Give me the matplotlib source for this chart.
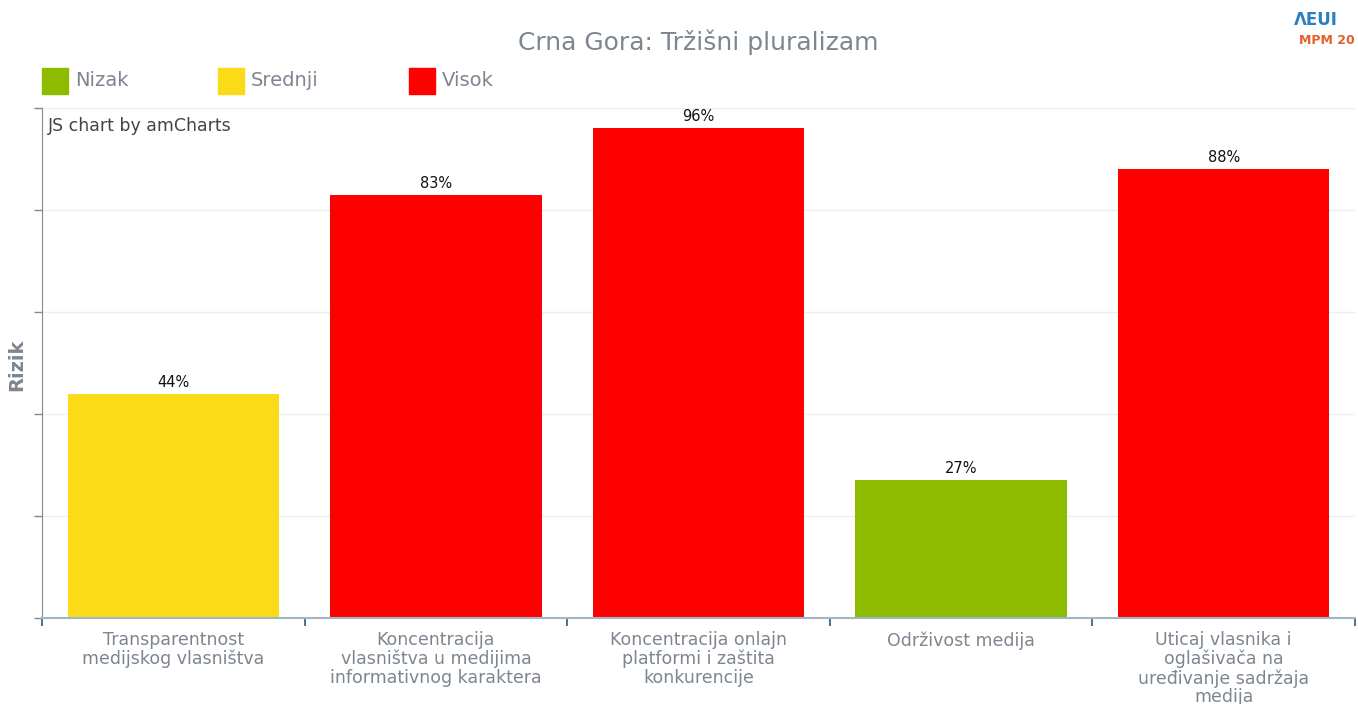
import matplotlib.pyplot as plt
from matplotlib.patches import Rectangle
import numpy as np

plt.rcParams['font.family'] = ['DejaVu Sans']

categories = ['Transparentnost\nmedijskog vlasništva',
              'Koncentracija\nvlasništva u medijima\ninformativnog karaktera',
              'Koncentracija onlajn\nplatformi i zaštita\nkonkurencije',
              'Održivost medija',
              'Uticaj vlasnika i\noglašivača na\nuređivanje sadržaja\nmedija']
values = [44, 83, 96, 27, 88]
levels = ['Srednji', 'Visok', 'Visok', 'Nizak', 'Visok']

level_names = ['Nizak', 'Srednji', 'Visok']
level_colors = {'Nizak': '#8cbb00', 'Srednji': '#fbdb18', 'Visok': '#ff0000'}

W, H = 1358, 704
fig = plt.figure(figsize=(W / 100, H / 100), dpi=100)
ax = fig.add_axes([42 / W, 1 - 618 / H, (1355 - 42) / W, (618 - 108) / H])

x = np.arange(len(values))
ax.bar(x, values, width=0.805, color=[level_colors[l] for l in levels], zorder=2)
for xi, v in zip(x, values):
    ax.text(xi, v + 0.8, f'{v}%', ha='center', va='bottom', fontsize=10.5, color='#111111')

ax.set_xlim(-0.5, len(values) - 0.5)
ax.set_ylim(0, 100)
ax.set_yticks([0, 20, 40, 60, 80, 100])
ax.set_yticklabels([])
ax.grid(axis='y', color='#eeeeee', linewidth=1, zorder=0)
ax.tick_params(axis='y', length=6, color='#7f8a94', width=1)

ax.set_xticks(np.arange(-0.5, len(values), 1.0))
ax.set_xticklabels([])
ax.tick_params(axis='x', length=6, color='#2e5a7a', width=1.2, direction='out')
for xi, lab in zip(x, categories):
    ax.text(xi, -2.6, lab, ha='center', va='top', fontsize=12.5, color='#7d8690',
            linespacing=1.05)

for s in ['top', 'right']:
    ax.spines[s].set_visible(False)
ax.spines['left'].set_color('#7f8a94')
ax.spines['bottom'].set_color('#9fb6c8')
ax.spines['bottom'].set_linewidth(1.5)

fig.text(17 / W, 1 - 365 / H, 'Rizik', rotation=90, ha='center', va='center',
         fontsize=14, fontweight='bold', color='#7d8690')
fig.text(698 / W, 1 - 42 / H, 'Crna Gora: Tržišni pluralizam', ha='center', va='center',
         fontsize=18, color='#7d8690')
fig.text(48 / W, 1 - 126 / H, 'JS chart by amCharts', ha='left', va='center',
         fontsize=12.5, color='#444444')

# legend
leg_x = [42, 218, 409]
for lx, name in zip(leg_x, level_names):
    fig.patches.append(Rectangle((lx / W, 1 - 94 / H), 26 / W, 26 / H,
                                 transform=fig.transFigure, color=level_colors[name]))
    fig.text((lx + 33) / W, 1 - 81 / H, name, ha='left', va='center',
             fontsize=14, color='#7d8690')

# logo
fig.text(1294 / W, 1 - 20 / H, 'ΛEUI', ha='left', va='center', fontsize=12,
         fontweight='bold', color='#2a7fc1')
fig.text(1299 / W, 1 - 40 / H, 'MPM 20', ha='left', va='center', fontsize=9,
         fontweight='bold', color='#e2602b')

fig.savefig('out.png', dpi=100)
